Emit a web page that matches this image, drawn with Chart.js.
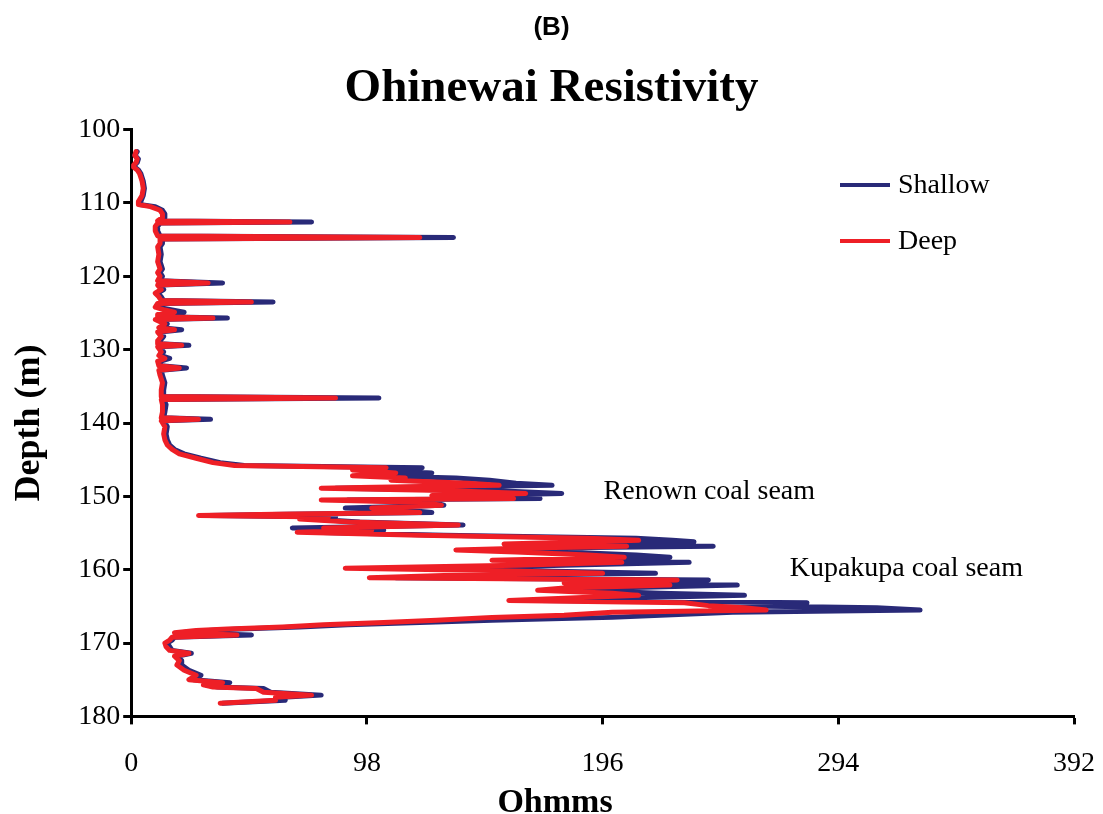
<!DOCTYPE html>
<html>
<head>
<meta charset="utf-8">
<title>Ohinewai Resistivity</title>
<script src="https://cdn.jsdelivr.net/npm/chart.js@4.4.1/dist/chart.umd.min.js"></script>
<style>
    html, body { margin: 0; padding: 0; background: #fff; }
    #wrap { width: 1103px; height: 814px; }
</style>
</head>
<body>
<div id="wrap"><canvas id="resChart" width="1103" height="814"></canvas></div>
<script>
// Log readings (depth in m, resistivity in ohm-m)
const depth = [
    103.0, 103.5, 104.0, 104.5, 105.0, 105.5, 106.0, 107.0, 108.0, 109.0,
    109.8, 110.2, 110.5, 111.0, 111.5, 112.0, 112.45, 112.6, 112.75, 113.2,
    113.8, 114.5, 114.7, 114.9, 115.5, 116.0, 117.0, 118.0, 119.0, 119.5,
    120.0, 120.6, 120.9, 121.2, 121.8, 122.3, 122.8, 123.3, 123.5, 123.7,
    124.2, 124.6, 124.9, 125.2, 125.5, 125.7, 125.9, 126.5, 127.0, 127.3,
    127.6, 128.2, 128.8, 129.2, 129.4, 129.6, 130.3, 130.8, 131.2, 131.6,
    132.2, 132.5, 132.8, 133.5, 134.5, 135.5, 136.4, 136.6, 136.8, 137.5,
    138.5, 139.3, 139.5, 139.7, 140.5, 141.5, 142.3, 143.0, 143.6, 144.2,
    144.8, 145.4, 145.8, 146.1, 146.4, 146.8, 147.2, 147.5, 147.8, 148.2,
    148.5, 148.8, 148.9, 149.2, 149.6, 149.9, 150.3, 150.5, 150.8, 151.2,
    151.6, 151.9, 152.2, 152.45, 152.6, 152.8, 153.1, 153.5, 153.9, 154.3,
    154.6, 154.9, 155.3, 155.7, 156.0, 156.2, 156.5, 156.8, 157.0, 157.3,
    157.6, 158.0, 158.3, 158.7, 159.0, 159.4, 159.8, 160.1, 160.5, 160.8,
    161.1, 161.4, 161.8, 162.1, 162.5, 162.8, 163.2, 163.5, 163.9, 164.2,
    164.5, 164.9, 165.2, 165.5, 165.8, 166.2, 166.5, 166.9, 167.2, 167.5,
    167.8, 168.1, 168.3, 168.6, 168.9, 169.2, 169.6, 170.0, 170.5, 171.0,
    171.4, 171.8, 172.4, 173.0, 173.7, 174.4, 175.0, 175.4, 175.7, 176.0,
    176.2, 176.7, 177.1, 177.4, 177.8, 178.2
];

const shallow = [
    2.5, 1.5, 3, 2.5, 1, 3, 4, 5, 5.5, 5,
    4, 3.5, 10, 13, 14, 14, 12, 75, 12, 11,
    11, 12, 134, 13, 13, 12, 12.5, 12, 13, 12,
    13, 12, 38, 12, 13.5, 11, 12.5, 13.5, 59, 12,
    11, 17, 22, 12, 12, 40, 11, 15, 12.5, 21,
    12, 13.5, 12, 12, 24, 12, 13.5, 12.5, 16, 12,
    12.5, 23, 12.5, 13, 14, 13.5, 13.5, 103, 13.5, 14.5,
    14, 13.5, 33, 13.5, 15, 14.5, 15, 16, 18, 22,
    29, 37, 47, 121, 100, 125, 100, 135, 149, 160,
    175, 110, 85, 150, 179, 140, 170, 90, 125, 130,
    89, 115, 125, 65, 32, 85, 75, 95, 138, 67,
    105, 75, 130, 210, 225, 234, 170, 242, 180, 150,
    180, 210, 224, 170, 232, 180, 125, 160, 218, 150,
    110, 240, 200, 252, 200, 185, 220, 255, 200, 170,
    281, 250, 310, 328, 250, 220, 200, 150, 120, 90,
    70, 45, 32, 20, 50, 18, 17, 15, 16, 17,
    25, 19, 21, 21, 24, 29, 26, 41, 31, 36,
    55, 58, 79, 63, 64, 38
];

const deep = [
    2, 1.5, 2.5, 2, 0.5, 2.5, 3.5, 4.5, 5, 4.5,
    3, 3, 8, 12, 13, 13, 11, 66, 11, 10,
    10, 11, 120, 12, 12, 11, 11.5, 11, 12, 11,
    12, 11, 32, 11, 12.5, 10, 11.5, 12.5, 50, 11,
    10, 14, 18, 11, 11, 34, 10, 14, 11.5, 18,
    11, 12.5, 11, 11, 21, 11, 12.5, 11.5, 14, 11,
    11.5, 20, 11.5, 12, 13, 12.5, 12.5, 85, 12.5, 13,
    13, 12.5, 28, 12.5, 14, 13.5, 14, 15, 17, 20,
    27, 34, 43, 106, 92, 110, 92, 114, 108, 140,
    153, 95, 79, 130, 164, 125, 159, 79, 120, 129,
    100, 105, 120, 60, 28, 82, 70, 91, 136, 80,
    100, 69, 120, 190, 211, 190, 155, 206, 170, 135,
    160, 190, 205, 150, 204, 160, 89, 150, 196, 130,
    99, 227, 180, 224, 180, 169, 200, 211, 180, 157,
    230, 240, 255, 264, 200, 180, 150, 127, 105, 80,
    63, 40, 27, 18, 44, 17, 16, 14, 14.5, 16,
    24, 18, 20, 19, 22, 27, 24, 38, 30, 34,
    52, 55, 75, 60, 60, 37
];

const seriesNames = ['Shallow', 'Deep'];
const seamNames = ['Renown coal seam', 'Kupakupa coal seam'];
const xTicks = [0, 98, 196, 294, 392];

const navy = '#292a78';
const red = '#ee1f26';

// legend, seam labels and x axis title drawn on top of the plot
const textPlugin = {
    id: 'textPlugin',
    afterDraw(chart) {
        const ctx = chart.ctx;
        const xs = chart.scales.x;
        const ys = chart.scales.y;
        ctx.save();
        ctx.fillStyle = '#000';
        ctx.textBaseline = 'middle';
        ctx.textAlign = 'left';
        ctx.font = '28px "Liberation Serif"';

        // legend
        const legendColors = [navy, red];
        const legendY = [185, 241];
        seriesNames.forEach((name, i) => {
            ctx.strokeStyle = legendColors[i];
            ctx.lineWidth = 4;
            ctx.beginPath();
            ctx.moveTo(840, legendY[i]);
            ctx.lineTo(890, legendY[i]);
            ctx.stroke();
            ctx.fillText(name, 898, legendY[i] + 1);
        });

        // seam labels
        const seamAt = [[196.4, 149.4], [273.8, 159.9]];
        seamNames.forEach((name, i) => {
            ctx.fillText(name, xs.getPixelForValue(seamAt[i][0]), ys.getPixelForValue(seamAt[i][1]));
        });

        // x axis title (sits off-centre and runs off the bottom in the original)
        ctx.font = 'bold 34px "Liberation Serif"';
        ctx.textAlign = 'center';
        ctx.textBaseline = 'alphabetic';
        ctx.fillText('Ohmms', 555, 812);
        ctx.restore();
    }
};

const toPoints = vals => depth.map((d, i) => ({ x: vals[i], y: d }));

const ctx = document.getElementById('resChart').getContext('2d');
new Chart(ctx, {
    type: 'scatter',
    data: {
        datasets: [
            {
                label: seriesNames[0],
                data: toPoints(shallow),
                borderColor: navy,
                backgroundColor: navy,
                borderWidth: 5,
                showLine: true,
                pointRadius: 0,
                borderJoinStyle: 'round',
                borderCapStyle: 'round',
                order: 2
            },
            {
                label: seriesNames[1],
                data: toPoints(deep),
                borderColor: red,
                backgroundColor: red,
                borderWidth: 5,
                showLine: true,
                pointRadius: 0,
                borderJoinStyle: 'round',
                borderCapStyle: 'round',
                order: 1
            }
        ]
    },
    options: {
        responsive: false,
        animation: false,
        layout: { padding: { left: 0, right: 0, top: 0, bottom: 12 } },
        plugins: {
            legend: { display: false },
            tooltip: { enabled: false },
            title: {
                display: true,
                text: '(B)',
                color: '#000',
                font: { family: '"Liberation Sans"', size: 26, weight: 'bold' },
                padding: { top: 12, bottom: 17 }
            },
            subtitle: {
                display: true,
                text: 'Ohinewai Resistivity',
                color: '#000',
                font: { family: '"Liberation Serif"', size: 47, weight: 'bold' },
                padding: { top: 0, bottom: 13 }
            }
        },
        scales: {
            x: {
                type: 'linear',
                position: 'bottom',
                min: 0,
                max: 392,
                afterBuildTicks: axis => { axis.ticks = xTicks.map(v => ({ value: v })); },
                ticks: {
                    color: '#000',
                    font: { family: '"Liberation Serif"', size: 28, lineHeight: 2.2 },
                    padding: 8,
                    autoSkip: false,
                    maxRotation: 0
                },
                grid: {
                    drawOnChartArea: false,
                    drawTicks: true,
                    tickLength: 8,
                    tickWidth: 3,
                    tickColor: '#000'
                },
                border: { display: true, color: '#000', width: 3 }
            },
            y: {
                type: 'linear',
                reverse: true,
                min: 100,
                max: 180,
                ticks: {
                    stepSize: 10,
                    color: '#000',
                    font: { family: '"Liberation Serif"', size: 28 },
                    padding: 3,
                    autoSkip: false
                },
                grid: {
                    drawOnChartArea: false,
                    drawTicks: true,
                    tickLength: 8,
                    tickWidth: 3,
                    tickColor: '#000'
                },
                border: { display: true, color: '#000', width: 3 },
                title: {
                    display: true,
                    text: 'Depth (m)',
                    color: '#000',
                    font: { family: '"Liberation Serif"', size: 36, weight: 'bold' },
                    padding: { top: 8, bottom: 24 }
                }
            }
        }
    },
    plugins: [textPlugin]
});
</script>
</body>
</html>
